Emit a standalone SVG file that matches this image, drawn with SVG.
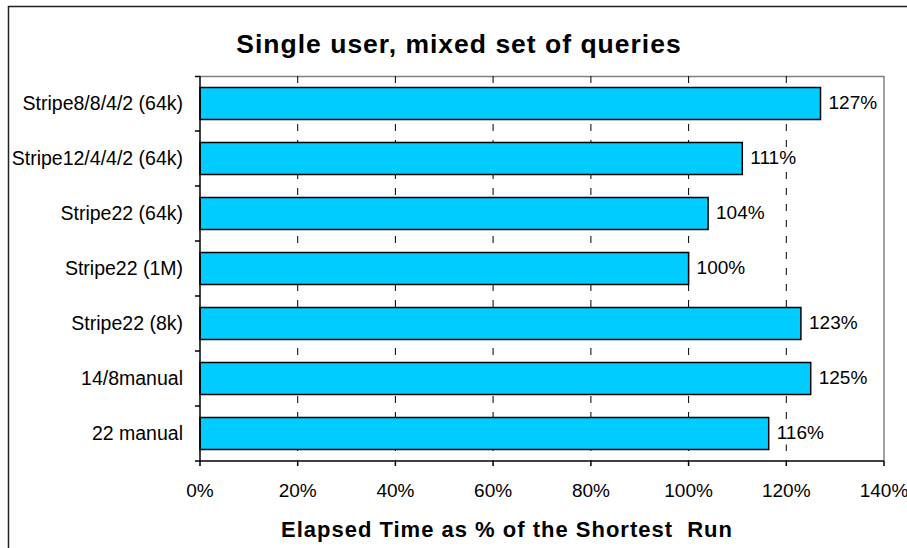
<svg xmlns="http://www.w3.org/2000/svg" width="907" height="548" viewBox="0 0 907 548">
<style>
text{font-family:"Liberation Sans",Arial,sans-serif;fill:#000}
.cat{font-size:19.5px;text-anchor:end}
.val{font-size:19px}
.tick{font-size:19px;text-anchor:middle}
.title{font-size:26.5px;font-weight:bold;text-anchor:middle;letter-spacing:1px}
.axt{font-size:22px;font-weight:bold;text-anchor:middle;letter-spacing:1px;white-space:pre}
.bar{fill:#00CCFF;stroke:#000;stroke-width:1.5}
.lbg{fill:#fff}
.grid{stroke:#000;stroke-width:1;stroke-dasharray:7 9}
.ax{stroke:#000;stroke-width:1.5}
</style>
<rect x="0" y="0" width="907" height="548" fill="#fff"/>
<rect x="8.5" y="6.5" width="910" height="560" fill="none" stroke="#222" stroke-width="1.5"/>
<text class="title" x="459" y="53">Single user, mixed set of queries</text>
<g id="plot-area">
<line x1="200" y1="76.5" x2="884" y2="76.5" stroke="#808080" stroke-width="1.5"/>
<line x1="884" y1="76" x2="884" y2="461" stroke="#808080" stroke-width="1.5"/>
</g>
<g id="gridlines">
<line class="grid" x1="297.7" y1="76" x2="297.7" y2="461"/>
<line class="grid" x1="395.4" y1="76" x2="395.4" y2="461"/>
<line class="grid" x1="493.1" y1="76" x2="493.1" y2="461"/>
<line class="grid" x1="590.9" y1="76" x2="590.9" y2="461"/>
<line class="grid" x1="688.6" y1="76" x2="688.6" y2="461"/>
<line class="grid" x1="786.3" y1="76" x2="786.3" y2="461"/>
</g>
<g id="bar-stripe8-8-4-2"><rect class="bar" x="200" y="87.5" width="620.5" height="32"/><text class="cat" x="183" y="109.5">Stripe8/8/4/2 (64k)</text><rect class="lbg" x="825.5" y="92.5" width="55" height="22"/><text class="val" x="828.5" y="109">127%</text></g>
<g id="bar-stripe12-4-4-2"><rect class="bar" x="200" y="142.5" width="542.3" height="32"/><text class="cat" x="183" y="164.5">Stripe12/4/4/2 (64k)</text><rect class="lbg" x="747.3" y="147.5" width="55" height="22"/><text class="val" x="750.3" y="164">111%</text></g>
<g id="bar-stripe22-64k"><rect class="bar" x="200" y="197.5" width="508.1" height="32"/><text class="cat" x="183" y="219.5">Stripe22 (64k)</text><rect class="lbg" x="713" y="202.5" width="55" height="22"/><text class="val" x="716" y="219">104%</text></g>
<g id="bar-stripe22-1m"><rect class="bar" x="200" y="252.5" width="488.6" height="32"/><text class="cat" x="183" y="274.5">Stripe22 (1M)</text><rect class="lbg" x="693.6" y="257.5" width="55" height="22"/><text class="val" x="696.6" y="274">100%</text></g>
<g id="bar-stripe22-8k"><rect class="bar" x="200" y="307.5" width="600.9" height="32"/><text class="cat" x="183" y="329.5">Stripe22 (8k)</text><rect class="lbg" x="806" y="312.5" width="55" height="22"/><text class="val" x="809" y="329">123%</text></g>
<g id="bar-14-8manual"><rect class="bar" x="200" y="362.5" width="610.7" height="32"/><text class="cat" x="183" y="384.5">14/8manual</text><rect class="lbg" x="815.7" y="367.5" width="55" height="22"/><text class="val" x="818.7" y="384">125%</text></g>
<g id="bar-22-manual"><rect class="bar" x="200" y="417.5" width="568.7" height="32"/><text class="cat" x="183" y="439.5">22 manual</text><rect class="lbg" x="773.7" y="422.5" width="55" height="22"/><text class="val" x="776.7" y="439">116%</text></g>
<g id="axes">
<line class="ax" x1="200" y1="76" x2="200" y2="462"/>
<line class="ax" x1="199" y1="461" x2="884" y2="461"/>
<path class="ax" d="M195 76.5H200M195 131H200M195 186H200M195 241H200M195 296H200M195 351H200M195 406H200M195 461H200"/>
<path class="ax" d="M200 461V466M297.7 461V466M395.4 461V466M493.1 461V466M590.9 461V466M688.6 461V466M786.3 461V466M884 461V466"/>
</g>
<g id="x-labels">
<text class="tick" x="200" y="496.5">0%</text>
<text class="tick" x="297.7" y="496.5">20%</text>
<text class="tick" x="395.4" y="496.5">40%</text>
<text class="tick" x="493.1" y="496.5">60%</text>
<text class="tick" x="590.9" y="496.5">80%</text>
<text class="tick" x="688.6" y="496.5">100%</text>
<text class="tick" x="786.3" y="496.5">120%</text>
<text class="tick" x="884" y="496.5">140%</text>
</g>
<text class="axt" x="507" y="537">Elapsed Time as % of the Shortest  Run</text>
</svg>
